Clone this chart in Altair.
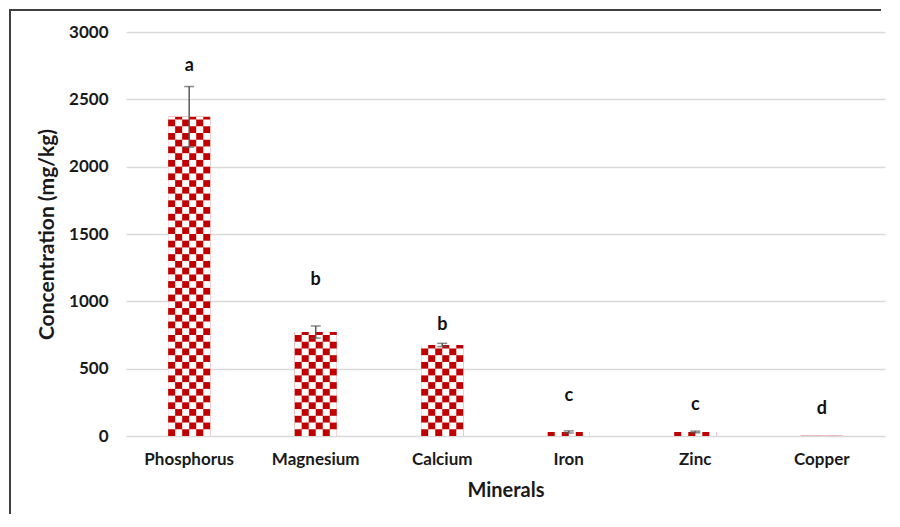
import altair as alt
import pandas as pd
import numpy as np

minerals = ["Phosphorus", "Magnesium", "Calcium", "Iron", "Zinc", "Copper"]
values = [2370, 772, 676, 30, 30, 1]
errors = [225, 45, 12, 8, 6, 0]
letters = ["a", "b", "b", "c", "c", "d"]
letter_y = [2750, 1160, 825, 297, 230, 200]
y_ticks = [0, 500, 1000, 1500, 2000, 2500, 3000]

df = pd.DataFrame({
    "mineral": minerals,
    "value": values,
    "lo": [v - e for v, e in zip(values, errors)],
    "hi": [v + e for v, e in zip(values, errors)],
    "letter": letters,
    "ly": letter_y,
})

# checkered pattern cells (white squares over the red bar)
cell = 50
ncol = 6
rows = []
for m, v in zip(minerals, values):
    nrow = int(np.ceil(v / cell))
    for k in range(nrow):
        for c in range(ncol):
            if (k + c) % 2 == 1:
                rows.append({"mineral": m, "col": c, "y0": k * cell, "y1": min((k + 1) * cell, v)})
cells = pd.DataFrame(rows)

FONT = "Lato"
RED = "#C00000"
ERR = "#595959"
TXT = "#1a1a1a"

x_enc = alt.X(
    "mineral:N",
    sort=minerals,
    scale=alt.Scale(paddingInner=0.667, paddingOuter=0.333),
    axis=alt.Axis(
        title="Minerals", labelAngle=0, labelFont=FONT, labelFontSize=17,
        labelFontWeight="bold", labelColor=TXT, labelPadding=15,
        titleFont=FONT, titleFontSize=20, titleFontWeight="bold", titleColor=TXT,
        titlePadding=13, domain=False, ticks=False, grid=False,
    ),
)
y_scale = alt.Scale(domain=[0, 3000], nice=False)
y_enc = alt.Y(
    "value:Q",
    scale=y_scale,
    axis=alt.Axis(
        title="Concentration (mg/kg)", values=y_ticks, format="d", labelFont=FONT, labelFontSize=17,
        labelFontWeight="bold", labelColor=TXT, labelPadding=18,
        titleFont=FONT, titleFontSize=21, titleFontWeight="bold", titleColor=TXT,
        titlePadding=11, domain=False, ticks=False, grid=True,
        gridColor="#D9D9D9", gridWidth=1.5,
    ),
)

bars = alt.Chart(df).mark_bar(color=RED).encode(x=x_enc, y=y_enc)

checks = alt.Chart(cells).mark_rect(color="white").encode(
    x=alt.X("mineral:N", sort=minerals),
    xOffset=alt.XOffset("col:O", scale=alt.Scale(paddingInner=0, paddingOuter=0)),
    y=alt.Y("y0:Q", scale=y_scale),
    y2="y1:Q",
)

err_base = alt.Chart(df).transform_filter("datum.hi > datum.lo")
err_rule = err_base.mark_rule(color=ERR, strokeWidth=1.5).encode(
    x=alt.X("mineral:N", sort=minerals), y=alt.Y("lo:Q", scale=y_scale), y2="hi:Q"
)
err_top = err_base.mark_tick(color=ERR, size=10, thickness=1.5).encode(
    x=alt.X("mineral:N", sort=minerals), y=alt.Y("hi:Q", scale=y_scale)
)
err_bot = err_base.mark_tick(color=ERR, size=10, thickness=1.5).encode(
    x=alt.X("mineral:N", sort=minerals), y=alt.Y("lo:Q", scale=y_scale)
)

labels = alt.Chart(df).mark_text(
    font=FONT, fontSize=18, fontWeight="bold", color="#111111", baseline="middle"
).encode(
    x=alt.X("mineral:N", sort=minerals), y=alt.Y("ly:Q", scale=y_scale), text="letter:N"
)

one = pd.DataFrame({"k": [0]})
left_border = alt.Chart(one).mark_rect(color="#404040").encode(
    x=alt.value(-117), x2=alt.value(-115), y=alt.value(-23), y2=alt.value(482)
)
top_border = alt.Chart(one).mark_rect(color="#404040").encode(
    x=alt.value(-117), x2=alt.value(755), y=alt.value(-23), y2=alt.value(-21)
)

chart = alt.layer(
    bars, checks, err_rule, err_top, err_bot, labels, left_border, top_border
).properties(
    width=759, height=404,
    autosize=alt.AutoSizeParams(type="none"),
    padding={"left": 118, "top": 24, "right": 4, "bottom": 78},
    background="white",
).configure_view(stroke=None)

chart.save("out.html", embed_options={"renderer": "svg", "actions": False})
